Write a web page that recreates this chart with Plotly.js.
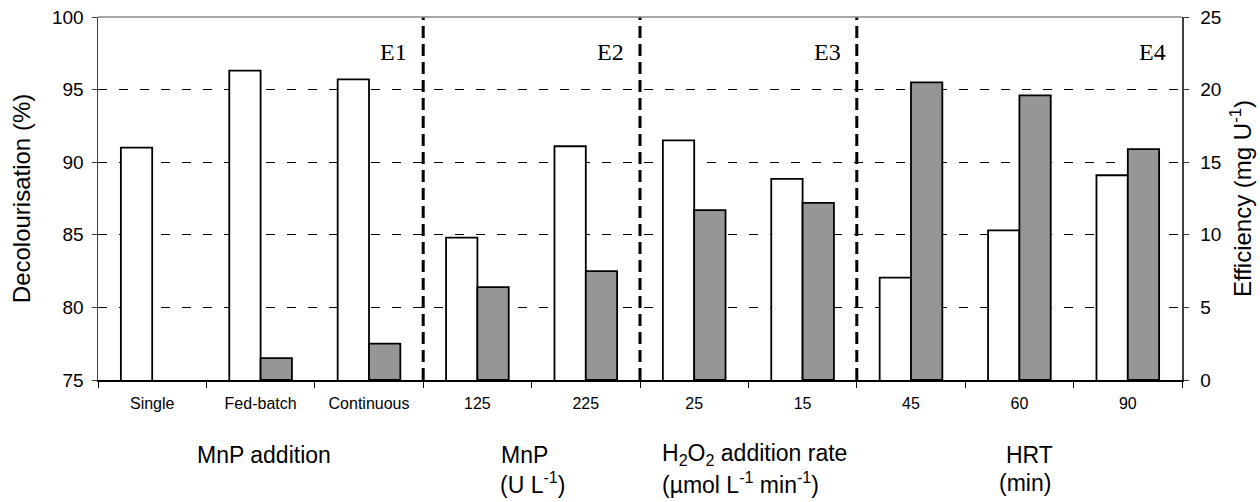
<!DOCTYPE html>
<html>
<head>
<meta charset="utf-8">
<script src="https://cdn.plot.ly/plotly-3.0.1.min.js"></script>
<style>html,body{margin:0;padding:0;background:#fff;}#chart{width:1260px;height:502px;}</style>
</head>
<body>
<div id="chart"></div>
<script>
const categories = ["Single", "Fed-batch", "Continuous", "125", "225", "25", "15", "45", "60", "90"];
const decolourisation = [91.0, 96.3, 95.7, 84.8, 91.1, 91.5, 88.85, 82.05, 85.3, 89.1];
const efficiency = [null, 1.5, 2.5, 6.4, 7.5, 11.7, 12.2, 20.5, 19.6, 15.9];
const experimentLabels = ["E1", "E2", "E3", "E4"];
const experimentEnds = [2.5, 4.5, 6.5, 9.5];
const dividers = [2.5, 4.5, 6.5];
const leftTicks = [75, 80, 85, 90, 95, 100];
const rightTicks = [0, 5, 10, 15, 20, 25];

const sans = "Liberation Sans, Arial, sans-serif";
const serif = "Liberation Serif, Times New Roman, serif";
const barW = 0.289;

const traces = [
  {
    type: "bar", name: "Decolourisation", x: categories, y: decolourisation,
    xaxis: "x", yaxis: "y", width: barW, offset: -barW,
    marker: {color: "#ffffff", line: {color: "#000000", width: 1.8}},
    base: 75, showlegend: false, hoverinfo: "x+y"
  },
  {
    type: "bar", name: "Efficiency", x: categories, y: efficiency,
    xaxis: "x", yaxis: "y2", width: barW, offset: 0,
    marker: {color: "#969696", line: {color: "#000000", width: 1.8}},
    showlegend: false, hoverinfo: "x+y"
  }
];
// base 75 would shift the bars; use y relative values instead
traces[0].base = undefined;

const shapes = dividers.map(d => ({
  type: "line", xref: "x", yref: "paper", x0: d, x1: d, y0: 0, y1: 1,
  line: {color: "#000000", width: 3, dash: "12px,6px"}, layer: "above"
}));
shapes.push({type: "line", xref: "paper", yref: "paper", x0: 0, x1: 1, y0: 1, y1: 1,
  line: {color: "#8a8a8a", width: 1.5}});

const annotations = experimentLabels.map((t, i) => ({
  text: t, xref: "x", yref: "paper", x: experimentEnds[i], y: 0.9036,
  xanchor: "right", yanchor: "middle", xshift: -14, showarrow: false,
  font: {family: serif, size: 24, color: "#000"}
}));
const groupLabels = [
  {text: "MnP addition", x: 0.1531, y: -0.2066, xanchor: "center"},
  {text: "MnP", x: 0.3939, y: -0.2066, xanchor: "center"},
  {text: "(U L<sup>-1</sup>)", x: 0.4004, y: -0.2837, xanchor: "center"},
  {text: "H<sub>2</sub>O<sub>2</sub> addition rate", x: 0.5185, y: -0.2066, xanchor: "left"},
  {text: "(µmol L<sup>-1</sup> min<sup>-1</sup>)", x: 0.5185, y: -0.2837, xanchor: "left"},
  {text: "HRT", x: 0.8589, y: -0.2066, xanchor: "center"},
  {text: "(min)", x: 0.8552, y: -0.2837, xanchor: "center"}
];
groupLabels.forEach(g => annotations.push({
  text: g.text, xref: "paper", yref: "paper", x: g.x, y: g.y,
  xanchor: g.xanchor, yanchor: "middle", showarrow: false,
  font: {family: sans, size: 23, color: "#000"}
}));

const layout = {
  width: 1260, height: 502,
  margin: {l: 98, r: 78, t: 17, b: 122, pad: 0},
  paper_bgcolor: "#ffffff", plot_bgcolor: "#ffffff",
  font: {family: sans, color: "#000"},
  bargap: 0.42, barmode: "overlay",
  xaxis: {
    type: "category", range: [-0.5, 9.5], showgrid: false, zeroline: false,
    showline: true, linecolor: "#000000", linewidth: 2,
    ticks: "outside", tickson: "boundaries", ticklen: 6, tickcolor: "#000", tickwidth: 1,
    tickfont: {family: sans, size: 16, color: "#000"}, ticklabelstandoff: 8
  },
  yaxis: {
    range: [75, 100], tickvals: leftTicks, showgrid: true,
    gridcolor: "#000000", griddash: "9px,12px", gridwidth: 1, zeroline: false,
    showline: true, linecolor: "#404040", linewidth: 1.5,
    ticks: "outside", ticklen: 5, tickcolor: "#404040",
    tickfont: {family: sans, size: 19, color: "#000"}, ticklabelstandoff: 4,
    title: {text: "Decolourisation (%)", font: {family: sans, size: 24, color: "#000"}, standoff: 14}
  },
  yaxis2: {
    range: [0, 25], tickvals: rightTicks, overlaying: "y", side: "right",
    showgrid: false, zeroline: false,
    showline: true, linecolor: "#404040", linewidth: 1.5,
    ticks: "outside", ticklen: 5, tickcolor: "#404040",
    tickfont: {family: sans, size: 19, color: "#000"}, ticklabelstandoff: 8,
    title: {text: "Efficiency (mg U<sup>-1</sup>)", font: {family: sans, size: 24, color: "#000"}, standoff: 14}
  },
  shapes: shapes,
  annotations: annotations
};

Plotly.newPlot("chart", traces, layout, {staticPlot: true, displayModeBar: false});
</script>
</body>
</html>
